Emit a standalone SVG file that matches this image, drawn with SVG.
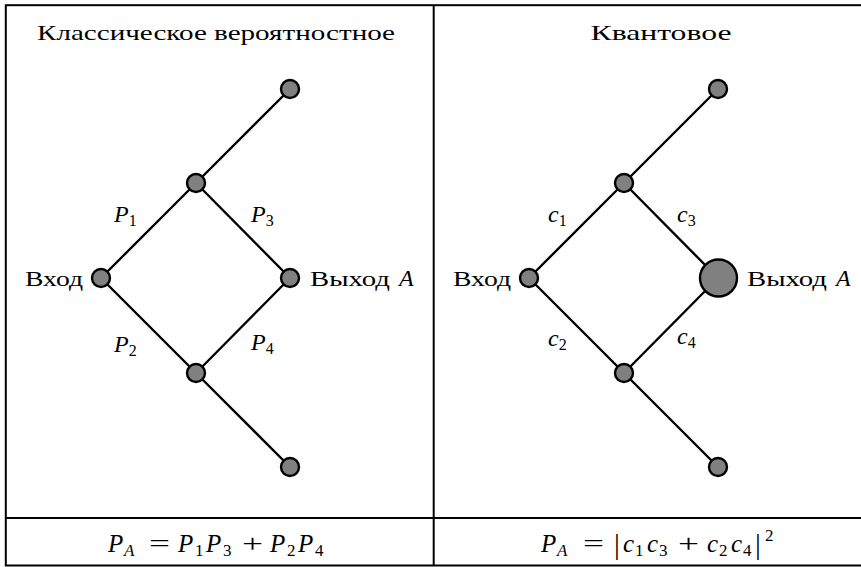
<svg xmlns="http://www.w3.org/2000/svg" width="861" height="567" viewBox="0 0 861 567">
<style>
.t{font-family:"Liberation Serif","DejaVu Serif",serif;font-size:22px;fill:#000}
.m{font-size:24px}
.f{font-size:25px}
.i{font-style:italic}
.s{font-size:16px}
.fs{font-size:17px}
.bar{font-size:29px}
.frame{fill:none;stroke:#000;stroke-width:2}
.edge{stroke:#000;stroke-width:2.4;fill:none}
.node{fill:#808080;stroke:#000;stroke-width:2.4}
</style>
<rect width="861" height="567" fill="#fff"/>
<g id="frame">
<rect class="frame" x="5.8" y="5.2" width="860" height="560.3"/>
<line class="frame" x1="433.7" y1="5" x2="433.7" y2="566"/>
<line class="frame" x1="5" y1="518" x2="861" y2="518"/>
</g>
<g id="titles">
<text class="t" x="216" y="40" text-anchor="middle" textLength="358" lengthAdjust="spacingAndGlyphs">Классическое вероятностное</text>
<text class="t" x="661" y="40" text-anchor="middle" textLength="141" lengthAdjust="spacingAndGlyphs">Квантовое</text>
</g>
<g id="connectors">
<path class="edge" d="M101,278 L196,183 L290,89 M196,183 L290,278 M101,278 L196,373 L290,467 M196,373 L290,278"/>
<path class="edge" d="M529,278 L624,183 L718,89 M624,183 L718,278 M529,278 L624,373 L718,467 M624,373 L718,278"/>
</g>
<g id="classic-in"><circle class="node" cx="101" cy="278" r="9"/><text class="t" x="25" y="286" textLength="58" lengthAdjust="spacingAndGlyphs">Вход</text></g>
<g id="classic-top"><circle class="node" cx="196" cy="183" r="9"/></g>
<g id="classic-bottom"><circle class="node" cx="196" cy="373" r="9"/></g>
<g id="classic-out"><circle class="node" cx="290" cy="278" r="9"/><text class="t" x="310" y="286"><tspan textLength="80" lengthAdjust="spacingAndGlyphs">Выход</tspan><tspan class="i m" x="399">A</tspan></text></g>
<g id="classic-top-end"><circle class="node" cx="290" cy="89" r="9"/></g>
<g id="classic-bottom-end"><circle class="node" cx="290" cy="467" r="9"/></g>
<g id="classic-labels">
<text class="t m" x="114" y="222"><tspan class="i">P</tspan><tspan class="s" dy="4">1</tspan></text>
<text class="t m" x="251" y="222"><tspan class="i">P</tspan><tspan class="s" dy="4">3</tspan></text>
<text class="t m" x="114" y="352"><tspan class="i">P</tspan><tspan class="s" dy="4">2</tspan></text>
<text class="t m" x="251" y="350"><tspan class="i">P</tspan><tspan class="s" dy="4">4</tspan></text>
</g>
<g id="quantum-in"><circle class="node" cx="529" cy="278" r="9"/><text class="t" x="453" y="286" textLength="58" lengthAdjust="spacingAndGlyphs">Вход</text></g>
<g id="quantum-top"><circle class="node" cx="624" cy="183" r="9"/></g>
<g id="quantum-bottom"><circle class="node" cx="624" cy="373" r="9"/></g>
<g id="quantum-out"><circle class="node" cx="718.5" cy="278" r="18.5"/><text class="t" x="747" y="286"><tspan textLength="80" lengthAdjust="spacingAndGlyphs">Выход</tspan><tspan class="i m" x="836">A</tspan></text></g>
<g id="quantum-top-end"><circle class="node" cx="718" cy="89" r="9"/></g>
<g id="quantum-bottom-end"><circle class="node" cx="718" cy="467" r="9"/></g>
<g id="quantum-labels">
<text class="t m" x="548" y="222"><tspan class="i">c</tspan><tspan class="s" dy="4">1</tspan></text>
<text class="t m" x="677" y="222"><tspan class="i">c</tspan><tspan class="s" dy="4">3</tspan></text>
<text class="t m" x="548" y="346"><tspan class="i">c</tspan><tspan class="s" dy="4">2</tspan></text>
<text class="t m" x="677" y="344"><tspan class="i">c</tspan><tspan class="s" dy="4">4</tspan></text>
</g>
<g id="formulas">
<text class="t f"><tspan class="i" x="108" y="552">P</tspan><tspan class="fs i" x="124" y="556">A</tspan><tspan x="149" y="552" textLength="21" lengthAdjust="spacingAndGlyphs">=</tspan><tspan class="i" x="178" y="552">P</tspan><tspan class="fs" x="195" y="556">1</tspan><tspan class="i" x="206" y="552">P</tspan><tspan class="fs" x="223" y="556">3</tspan><tspan x="242" y="552" textLength="21" lengthAdjust="spacingAndGlyphs">+</tspan><tspan class="i" x="270" y="552">P</tspan><tspan class="fs" x="287" y="556">2</tspan><tspan class="i" x="298" y="552">P</tspan><tspan class="fs" x="315" y="556">4</tspan></text>
<text class="t f"><tspan class="i" x="541" y="552">P</tspan><tspan class="fs i" x="557" y="556">A</tspan><tspan x="583" y="552" textLength="21" lengthAdjust="spacingAndGlyphs">=</tspan><tspan class="bar" x="614" y="554">|</tspan><tspan class="i" x="623" y="552">c</tspan><tspan class="fs" x="635" y="556">1</tspan><tspan class="i" x="647" y="552">c</tspan><tspan class="fs" x="659" y="556">3</tspan><tspan x="678" y="552" textLength="21" lengthAdjust="spacingAndGlyphs">+</tspan><tspan class="i" x="707" y="552">c</tspan><tspan class="fs" x="719" y="556">2</tspan><tspan class="i" x="731" y="552">c</tspan><tspan class="fs" x="743" y="556">4</tspan><tspan class="bar" x="755" y="554">|</tspan><tspan class="fs" x="765" y="541">2</tspan></text>
</g>
</svg>
